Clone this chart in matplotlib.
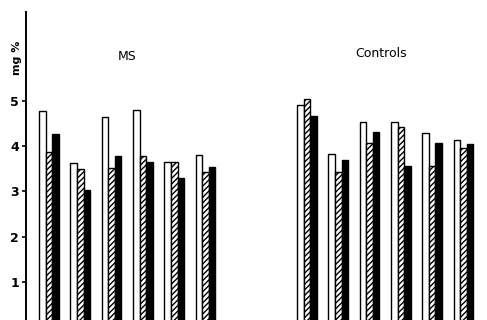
import matplotlib
matplotlib.use("Agg")
import matplotlib.pyplot as plt
import numpy as np

# mg % values, three bars per subject
ms_white = [4.78, 3.63, 4.64, 4.81, 3.64, 3.81]
ms_hatch = [3.88, 3.50, 3.51, 3.79, 3.64, 3.42]
ms_black = [4.26, 3.03, 3.78, 3.66, 3.29, 3.53]

ctrl_white = [4.92, 3.82, 4.54, 4.54, 4.29, 4.14]
ctrl_hatch = [5.05, 3.44, 4.06, 4.43, 3.56, 3.95]
ctrl_black = [4.67, 3.70, 4.32, 3.56, 4.08, 4.05]

yticks = [1, 2, 3, 4, 5]

plt.rcParams['hatch.linewidth'] = 1.0

fig = plt.figure(figsize=(4.87, 3.2), dpi=100)
ax = fig.add_axes([0, 0, 1, 1])

w = 0.21
x_ms = np.arange(6)
x_ctrl = np.arange(6) + 8.24

for x, white, hatch, black in [(x_ms, ms_white, ms_hatch, ms_black),
                               (x_ctrl, ctrl_white, ctrl_hatch, ctrl_black)]:
    ax.bar(x - w, white, w, color='white', edgecolor='black', linewidth=1.0)
    ax.bar(x, hatch, w, color='white', edgecolor='black', linewidth=1.0, hatch='//////')
    ax.bar(x + w, black, w, color='black', edgecolor='black', linewidth=1.0)

ax.set_xlim(-1.565, 13.99)
ax.set_ylim(0.16, 7.23)

for s in ['top', 'right', 'bottom']:
    ax.spines[s].set_visible(False)
ax.spines['left'].set_position(('data', -0.73))
ax.spines['left'].set_bounds(0.16, 6.97)
ax.spines['left'].set_linewidth(1.4)

ax.set_xticks([])
ax.set_yticks(yticks)
ax.set_yticklabels([str(t) for t in yticks], fontsize=9, fontweight='bold')
ax.tick_params(axis='y', direction='out', length=3, width=1.2, pad=2)

ax.text(-1.03, 5.95, 'mg %', rotation=90, fontsize=8, fontweight='bold',
        ha='center', va='center')
ax.text(2.5, 5.98, 'MS', fontsize=9, ha='center', va='center')
ax.text(10.6, 6.05, 'Controls', fontsize=9, ha='center', va='center')

fig.savefig('out.png', dpi=100)
